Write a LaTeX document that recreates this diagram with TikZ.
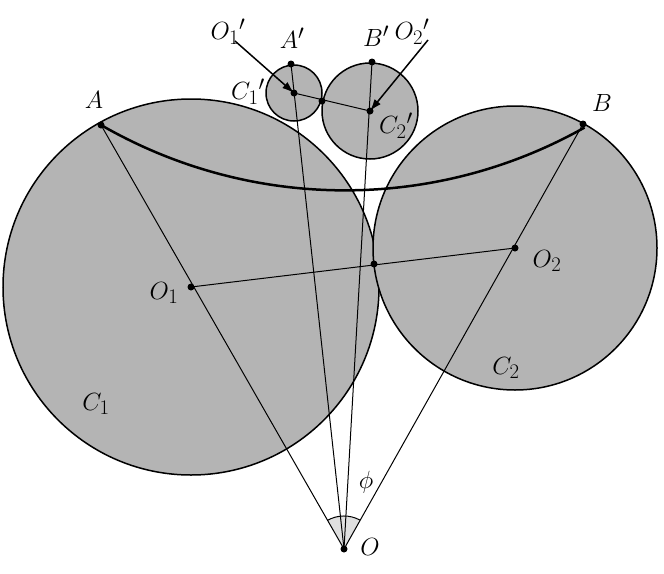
\documentclass[tikz,border=0pt]{standalone}
\usetikzlibrary{arrows.meta}
\begin{document}
\begin{tikzpicture}[x=1pt,y=-1pt,
  circ/.style={draw=black,line width=1.5pt,fill={rgb,255:red,180;green,180;blue,180}},
  ln/.style={line width=1pt},
  dot/.style={circle,fill=black,inner sep=0pt,minimum size=7pt},
  lab/.style={font=\fontsize{29}{30}\selectfont},
  arr/.style={line width=1.5pt,-{Latex[length=12pt,width=8pt]}}]
\useasboundingbox (0,0) rectangle (664,573);
\coordinate (O) at (344,549);
\coordinate (A) at (101,125);
\coordinate (B) at (583,124);
\coordinate (A1) at (291,64);
\coordinate (B1) at (372,62);
\coordinate (O1) at (191,287);
\coordinate (O2) at (515,248);
\coordinate (T) at (374,264);
\coordinate (P1) at (294,93);
\coordinate (P2) at (370,111);
\coordinate (T1) at (322,101);
\fill[circ] (O1) circle (188);
\fill[circ] (O2) circle (142);
\fill[circ] (P1) circle (28);
\fill[circ] (P2) circle (48);
\draw[line width=2.5pt] (A) arc[start angle=120.0, end angle=60.6, radius=488];
\fill[gray!25] (O) -- ++(120:-33) arc[start angle=120, end angle=60.6, radius=-33] -- cycle;
\draw[line width=1pt] (O) ++(-16.5,-28.6) arc[start angle=240, end angle=299.4, radius=33];
\draw[ln] (O) -- (A); \draw[ln] (O) -- (B);
\draw[ln] (O) -- (A1); \draw[ln] (O) -- (B1);
\draw[ln] (O1) -- (O2); \draw[ln] (P1) -- (P2);
\foreach \p in {O,A,B,A1,B1,O1,O2,T,P1,P2,T1} \node[dot] at (\p) {};
\node[lab] (lA) at (94,100) {$A$};
\node[lab] (lB) at (602,103) {$B$};
\node[lab] (lA1) at (292,38) {$A'$};
\node[lab] (lB1) at (376,36) {$B'$};
\node[lab] (lP1) at (228,32) {$O_1{}'$};
\node[lab] (lP2) at (412,32) {$O_2{}'$};
\node[lab] (lC1') at (248,92) {$C_1{}'$};
\node[lab] (lC2') at (396,126) {$C_2{}'$};
\node[lab] (lO1) at (164,293) {$O_1$};
\node[lab] (lO2) at (547,261) {$O_2$};
\node[lab] (lC1) at (96,404) {$C_1$};
\node[lab] (lC2) at (506,368) {$C_2$};
\node[lab] (lphi) at (366,482) {$\phi$};
\node[lab] (lO) at (370,547) {$O$};
\draw[arr] (235,41) -- (P1);
\draw[arr] (428,40) -- (P2);
\end{tikzpicture}
\end{document}
